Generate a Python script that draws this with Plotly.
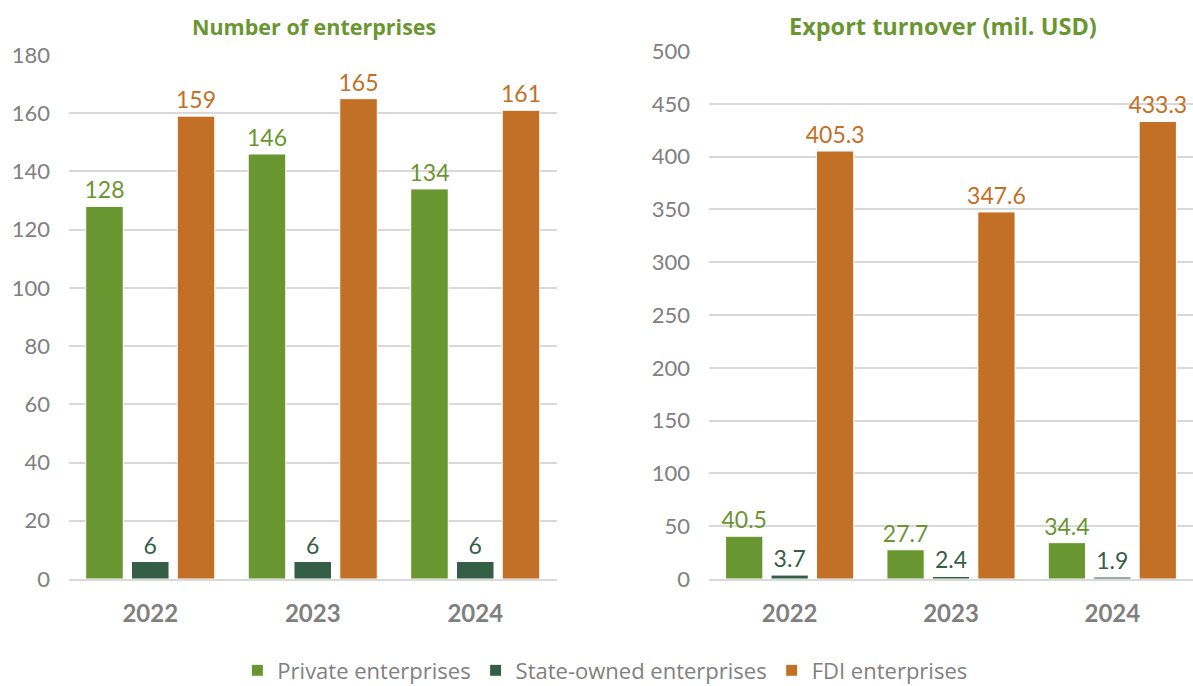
import plotly.graph_objects as go

years = ["2022", "2023", "2024"]
series_names = ["Private enterprises", "State-owned enterprises", "FDI enterprises"]
enterprises_private = [128, 146, 134]
enterprises_state = [6, 6, 6]
enterprises_fdi = [159, 165, 161]
export_private = [40.5, 27.7, 34.4]
export_state = [3.7, 2.4, 1.9]
export_fdi = [405.3, 347.6, 433.3]

colors = ["#6A9631", "#355E47", "#C27026"]
FONT = "Lato, 'Open Sans', sans-serif"
WIDE = "'Open Sans', Lato, sans-serif"
GRAY = "#808080"

fig = go.Figure()

left_sets = [enterprises_private, enterprises_state, enterprises_fdi]
right_sets = [export_private, export_state, export_fdi]

for i, (name, vals) in enumerate(zip(series_names, left_sets)):
    fig.add_trace(go.Bar(
        x=years, y=vals, name=name, legendgroup=name,
        marker=dict(color=colors[i], line=dict(color="#ffffff", width=1)),
        text=[f"{v:g}" for v in vals], textposition="outside",
        constraintext="none",
        textfont=dict(color=colors[i], size=23, family=FONT),
        cliponaxis=False, xaxis="x", yaxis="y",
    ))

for i, (name, vals) in enumerate(zip(series_names, right_sets)):
    fig.add_trace(go.Bar(
        x=years, y=vals, name=name, legendgroup=name, showlegend=False,
        marker=dict(color=colors[i], line=dict(color="#ffffff", width=1)),
        text=[f"{v:.1f}" for v in vals], textposition="outside",
        constraintext="none",
        textfont=dict(color=colors[i], size=23, family=FONT),
        cliponaxis=False, xaxis="x2", yaxis="y2",
    ))

W, H = 1193, 686

def fx(px):
    return px / W

def fy(py):
    return 1 - py / H

cat_common = dict(
    showgrid=False, showline=True, linecolor="#d9d9d9", linewidth=2,
    ticks="", tickfont=dict(color=GRAY, size=24, family=FONT, weight="bold"),
    ticklabelstandoff=12,
)
val_common = dict(
    showgrid=True, gridcolor="#d9d9d9", gridwidth=2, zeroline=False,
    showline=False, ticks="", ticklabelstandoff=18,
    tickfont=dict(color=GRAY, size=22, family=FONT),
)

fig.update_layout(
    width=W, height=H,
    margin=dict(l=0, r=0, t=0, b=0, autoexpand=False),
    paper_bgcolor="white", plot_bgcolor="white",
    font=dict(family=FONT, color=GRAY),
    barmode="group", bargap=0.155, bargroupgap=0.18,
    xaxis=dict(domain=[fx(69), fx(556.5)], anchor="y", **cat_common),
    yaxis=dict(domain=[fy(579), fy(55)], anchor="x", range=[0, 180], dtick=20, **val_common),
    xaxis2=dict(domain=[fx(709), 1.0], anchor="y2", **cat_common),
    yaxis2=dict(domain=[fy(579), fy(51)], anchor="x2", range=[0, 500], dtick=50, **val_common),
    legend=dict(
        orientation="h", x=0.507, xanchor="center", y=-0.008, yanchor="bottom",
        font=dict(color=GRAY, size=22, family=WIDE),
        traceorder="normal",
    ),
    annotations=[
        dict(text="<b>Number of enterprises</b>", x=fx(313.5), y=fy(27),
             xref="paper", yref="paper", xanchor="center", yanchor="middle",
             showarrow=False,
             font=dict(color="#6A9631", size=21.5, family=WIDE)),
        dict(text="<b>Export turnover (mil. USD)</b>", x=fx(943), y=fy(26),
             xref="paper", yref="paper", xanchor="center", yanchor="middle",
             showarrow=False,
             font=dict(color="#6A9631", size=23.5, family=WIDE)),
    ],
)

fig.write_html("out.html")
